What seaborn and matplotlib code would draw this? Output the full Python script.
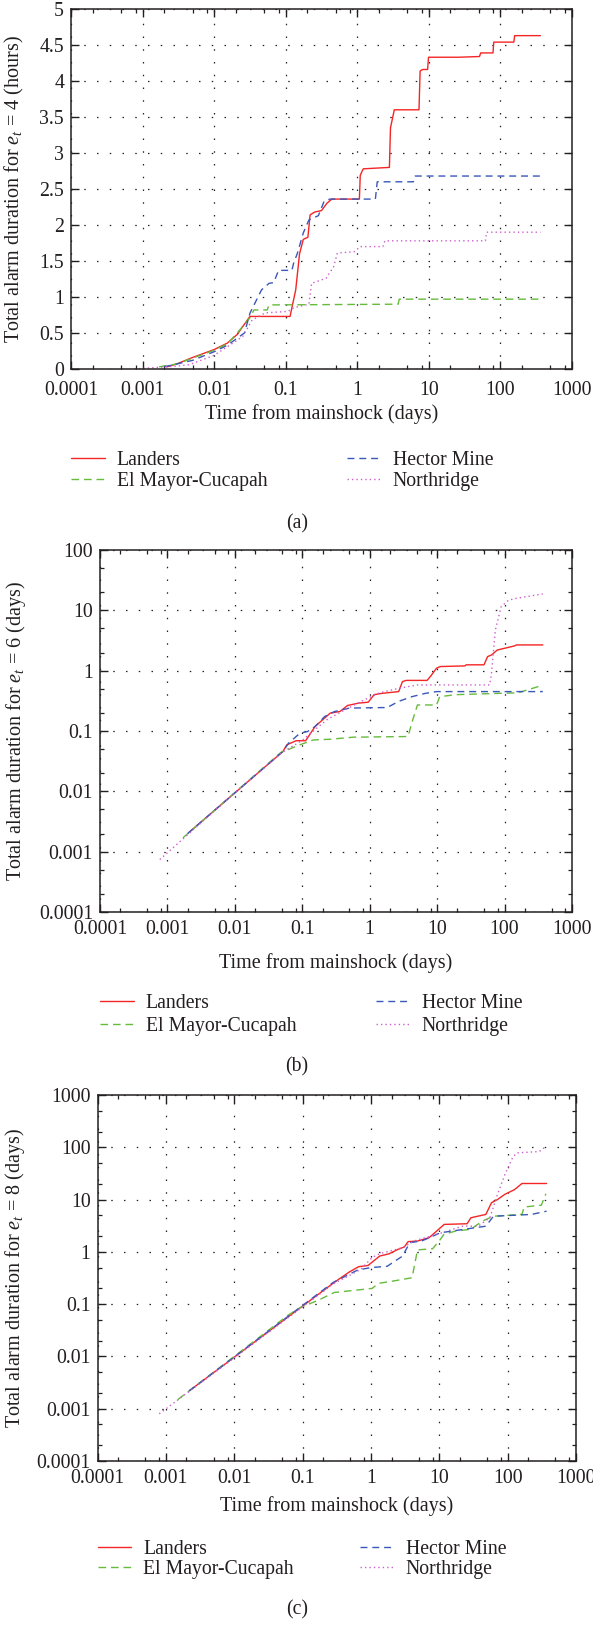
import numpy as np
import matplotlib
matplotlib.use("Agg")
import matplotlib.pyplot as plt
import seaborn as sns
from matplotlib.ticker import FixedLocator, FixedFormatter, LogLocator, NullFormatter

# ---------------- data ----------------
series_names = ["Landers", "El Mayor-Cucapah", "Hector Mine", "Northridge"]
x_tick_vals = [1e-4, 1e-3, 1e-2, 1e-1, 1, 10, 100, 1000]
x_tick_labels = ["0.0001", "0.001", "0.01", "0.1", "1", "10", "100", "1000"]
ya_tick_vals = [0, 0.5, 1, 1.5, 2, 2.5, 3, 3.5, 4, 4.5, 5]
ya_tick_labels = ["0", "0.5", "1", "1.5", "2", "2.5", "3", "3.5", "4", "4.5", "5"]
yb_tick_vals = [1e-4, 1e-3, 1e-2, 1e-1, 1, 10, 100]
yb_tick_labels = ["0.0001", "0.001", "0.01", "0.1", "1", "10", "100"]
yc_tick_vals = [1e-4, 1e-3, 1e-2, 1e-1, 1, 10, 100, 1000]
yc_tick_labels = ["0.0001", "0.001", "0.01", "0.1", "1", "10", "100", "1000"]

# panel (a): e_t = 4, hours
a_landers_t = [0.0022, 0.003, 0.005, 0.01, 0.0153, 0.021, 0.0316, 0.115, 0.138, 0.156, 0.176, 0.204,
               0.219, 0.254, 0.316, 0.375, 0.44, 1.07, 1.10, 1.21, 2.81, 2.91, 3.29, 7.28, 7.55, 8.2,
               9.6, 9.9, 26, 51, 53, 78.7, 80.7, 154, 158, 362]
a_landers_v = [0.03, 0.07, 0.16, 0.27, 0.36, 0.48, 0.73, 0.73, 1.1, 1.6, 1.8, 1.83,
               2.14, 2.18, 2.2, 2.3, 2.36, 2.36, 2.69, 2.78, 2.8, 3.35, 3.6, 3.6, 4.14, 4.16,
               4.16, 4.33, 4.33, 4.34, 4.39, 4.39, 4.54, 4.54, 4.63, 4.63]
a_hector_t = [0.002, 0.005, 0.01, 0.0153, 0.0265, 0.0318, 0.046, 0.0586, 0.068, 0.0794, 0.122, 0.129,
              0.146, 0.176, 0.211, 0.286, 0.344, 0.413, 1.79, 1.90, 6.07, 6.44, 362]
a_hector_v = [0.03, 0.12, 0.24, 0.33, 0.5, 0.78, 1.1, 1.19, 1.2, 1.37, 1.37, 1.47,
              1.61, 1.89, 2.07, 2.13, 2.33, 2.36, 2.36, 2.6, 2.6, 2.68, 2.68]
a_green_t = [0.0017, 0.003, 0.005, 0.01, 0.0153, 0.021, 0.0316, 0.036, 0.055, 0.0586, 3.72, 3.86, 362]
a_green_v = [0.03, 0.07, 0.15, 0.26, 0.35, 0.5, 0.71, 0.82, 0.82, 0.89, 0.9, 0.97, 0.97]
a_north_t = [0.00077, 0.0015, 0.003, 0.0045, 0.01, 0.0153, 0.025, 0.0339, 0.0519, 0.108, 0.129, 0.211,
             0.23, 0.366, 0.467, 0.527, 0.914, 1.10, 2.28, 2.43, 61.7, 64, 362]
a_north_v = [0.0, 0.02, 0.04, 0.06, 0.19, 0.31, 0.45, 0.68, 0.78, 0.8, 0.85, 0.9,
             1.19, 1.26, 1.42, 1.61, 1.63, 1.7, 1.7, 1.78, 1.78, 1.9, 1.9]

# panel (b): e_t = 6, days
b_landers_t = [0.0021, 0.0516, 0.059, 0.081, 0.112, 0.155, 0.26, 0.36, 0.47, 0.69, 0.95, 1.16, 1.5,
               2.69, 3.06, 3.5, 7.1, 8.07, 9.8, 11.2, 25.9, 27, 49.5, 56, 64, 78, 100, 140, 150, 369]
b_landers_v = [0.0021, 0.0458, 0.059, 0.069, 0.069, 0.119, 0.198, 0.21, 0.265, 0.29, 0.30, 0.40, 0.42,
               0.45, 0.66, 0.69, 0.69, 0.82, 1.1, 1.17, 1.2, 1.25, 1.25, 1.71, 1.82, 2.2, 2.35, 2.57, 2.67, 2.67]
b_hector_t = [0.002, 0.0516, 0.0627, 0.0925, 0.12, 0.155, 0.215, 0.30, 0.50, 1.82, 2.69, 4.2, 6.65, 9.8, 369]
b_hector_v = [0.002, 0.0458, 0.063, 0.092, 0.098, 0.119, 0.174, 0.21, 0.24, 0.245, 0.31, 0.37, 0.42, 0.45, 0.45]
b_green_t = [0.0017, 0.048, 0.092, 0.145, 0.26, 0.57, 3.7, 4.2, 5.1, 9.8, 10.9, 18.7, 158, 325, 365]
b_green_v = [0.0017, 0.044, 0.059, 0.071, 0.073, 0.079, 0.081, 0.135, 0.27, 0.27, 0.37, 0.40, 0.43, 0.55, 0.57]
b_north_t = [0.00077, 0.01, 0.05, 0.1, 0.23, 0.385, 0.835, 1.4, 2.69, 5.1, 60, 64, 73, 89, 115, 149, 369]
b_north_v = [0.00074, 0.0095, 0.044, 0.07, 0.153, 0.21, 0.33, 0.43, 0.51, 0.58, 0.58, 0.91, 4.7, 11.5,
             14.8, 15.8, 18.7]

# panel (c): e_t = 8, days
c_landers_t = [0.0022, 0.29, 0.48, 0.66, 0.91, 1.34, 1.85, 2.5, 3.08, 3.5, 4.8, 7.08, 8.58, 11.8, 25.5,
               29, 48, 58, 71, 91, 126, 162, 371]
c_landers_v = [0.0022, 0.26, 0.41, 0.52, 0.55, 0.83, 0.92, 1.12, 1.24, 1.57, 1.61, 1.86, 2.32, 3.35, 3.45,
               4.49, 5.2, 8.7, 10, 12.6, 15.5, 20.3, 20.3]
c_hector_t = [0.0022, 0.28, 0.64, 1.0, 1.73, 2.9, 3.7, 5.5, 8.05, 10.4, 48, 62, 224, 371]
c_hector_v = [0.0022, 0.26, 0.45, 0.5, 0.53, 0.83, 1.5, 1.61, 2.0, 2.32, 3.1, 4.8, 5.2, 6.0]
c_green_t = [0.0015, 0.062, 0.091, 0.17, 0.29, 1.04, 1.3, 2.24, 4.0, 4.8, 8.0, 10.4, 11.7, 17.3, 28.8,
             43, 62, 162, 174, 311, 363]
c_green_v = [0.0015, 0.062, 0.085, 0.119, 0.167, 0.20, 0.25, 0.28, 0.32, 1.09, 1.15, 1.74, 2.16, 2.5, 2.7,
             3.9, 4.8, 5.2, 7.2, 7.8, 12.9]
c_north_t = [0.0008, 0.29, 0.71, 1.04, 1.34, 2.9, 4.25, 6.2, 11, 22, 37, 55, 71, 91, 118, 135, 290, 350]
c_north_v = [0.0008, 0.25, 0.46, 0.78, 0.92, 1.2, 1.61, 1.86, 2.32, 3.1, 3.1, 4.5, 12.6, 30, 63, 78, 83, 100]

# ---------------- style ----------------
sns.set_theme(style="ticks")
SERIF = ["Liberation Serif", "DejaVu Serif"]
plt.rcParams["font.family"] = SERIF
plt.rcParams["mathtext.fontset"] = "custom"
plt.rcParams["mathtext.rm"] = "Liberation Serif"
plt.rcParams["mathtext.it"] = "Liberation Serif:italic"
TXT = "#231f20"
FS_TICK = 14.3
FS_LAB = 14.5
FS_LEG = 14.2

styles = {
    "Landers": dict(color="#f42525", linestyle="-", lw=1.0),
    "El Mayor-Cucapah": dict(color="#66bb3c", linestyle=(0, (5.5, 3.5)), lw=1.0),
    "Hector Mine": dict(color="#3a58b8", linestyle=(0, (5, 3.5)), lw=1.0),
    "Northridge": dict(color="#cc5fcc", linestyle=(0, (1, 2.2)), lw=1.0),
}

W, H = 593, 1625
fig = plt.figure(figsize=(W / 100, H / 100), dpi=100)


def add_ax(l, r, t, b):
    return fig.add_axes([l / W, 1 - b / H, (r - l) / W, (b - t) / H])


def style_axes(ax, ylog, yvals, ylabels, ylim, ylabel, ylab_x, xlab_y, xpad=6):
    ax.set_xscale("log")
    if ylog:
        ax.set_yscale("log")
    ax.set_xlim(1e-4, 1e3)
    ax.set_ylim(*ylim)
    ax.xaxis.set_major_locator(FixedLocator(x_tick_vals))
    ax.xaxis.set_major_formatter(FixedFormatter(x_tick_labels))
    ax.xaxis.set_minor_locator(LogLocator(base=10, subs=(2, 5, 8), numticks=20))
    ax.xaxis.set_minor_formatter(NullFormatter())
    ax.yaxis.set_major_locator(FixedLocator(yvals))
    ax.yaxis.set_major_formatter(FixedFormatter(ylabels))
    if ylog:
        ax.yaxis.set_minor_locator(LogLocator(base=10, subs=(2, 5), numticks=20))
        ax.yaxis.set_minor_formatter(NullFormatter())
    ax.tick_params(which="both", direction="in", top=True, right=True, colors=TXT,
                   labelsize=FS_TICK, labelcolor=TXT)
    ax.tick_params(which="major", length=6, width=1.0)
    ax.tick_params(axis="x", which="major", pad=xpad)
    ax.tick_params(axis="y", which="major", pad=5)
    ax.tick_params(which="minor", length=3, width=0.9)
    for lab in ax.get_xticklabels() + ax.get_yticklabels():
        lab.set_family(SERIF)
    for s in ax.spines.values():
        s.set_color(TXT)
        s.set_linewidth(1.1)
    ax.grid(True, which="major", color="#222222", linestyle=(0, (1.2, 9)), lw=0.9)
    ax.set_xlabel("Time from mainshock (days)", fontsize=FS_LAB, color=TXT, family=SERIF)
    ax.set_ylabel(ylabel, fontsize=FS_LAB, color=TXT, family=SERIF)
    ax.yaxis.set_label_coords(ylab_x, 0.5)
    ax.xaxis.set_label_coords(0.5, xlab_y)


def draw(ax, data):
    for name, (t, v) in zip(series_names, data):
        sns.lineplot(x=t, y=v, ax=ax, estimator=None, sort=False, label=name, **styles[name])
    if ax.get_legend() is not None:
        ax.get_legend().remove()


def legends(ax, x1, x2, yc, spacing):
    h, l = ax.get_legend_handles_labels()
    d = dict(zip(l, h))
    common = dict(loc="center left", frameon=False, borderpad=0, borderaxespad=0,
                  handlelength=1.7, handletextpad=0.62, labelspacing=spacing,
                  prop={"family": SERIF, "size": FS_LEG}, labelcolor=TXT)
    fig.legend([d["Landers"], d["El Mayor-Cucapah"]], ["Landers", "El Mayor-Cucapah"],
               bbox_to_anchor=(x1 / W, 1 - yc / H), **common)
    fig.legend([d["Hector Mine"], d["Northridge"]], ["Hector Mine", "Northridge"],
               bbox_to_anchor=(x2 / W, 1 - yc / H), **common)


def caption(txt, y):
    fig.text(297 / W, 1 - y / H, txt, ha="center", va="center", fontsize=FS_LEG, color=TXT, family=SERIF)


# panel (a)
ax_a = add_ax(71, 572, 9, 369)
style_axes(ax_a, False, ya_tick_vals, ya_tick_labels, (0, 5),
           r"Total alarm duration for $e_t$ = 4 (hours)", -0.09, -0.097, xpad=8.5)
draw(ax_a, [(a_landers_t, a_landers_v), (a_green_t, a_green_v),
            (a_hector_t, a_hector_v), (a_north_t, a_north_v)])
legends(ax_a, 71, 347, 471, 0.12)
caption("(a)", 524)

# panel (b)
ax_b = add_ax(100, 572, 550, 912)
style_axes(ax_b, True, yb_tick_vals, yb_tick_labels, (1e-4, 100),
           r"Total alarm duration for $e_t$ = 6 (days)", -0.153, -0.113)
draw(ax_b, [(b_landers_t, b_landers_v), (b_green_t, b_green_v),
            (b_hector_t, b_hector_v), (b_north_t, b_north_v)])
legends(ax_b, 100, 376, 1015, 0.22)
caption("(b)", 1067)

# panel (c)
ax_c = add_ax(97.5, 576, 1095, 1461)
style_axes(ax_c, True, yc_tick_vals, yc_tick_labels, (1e-4, 1000),
           r"Total alarm duration for $e_t$ = 8 (days)", -0.147, -0.096)
draw(ax_c, [(c_landers_t, c_landers_v), (c_green_t, c_green_v),
            (c_hector_t, c_hector_v), (c_north_t, c_north_v)])
legends(ax_c, 97.5, 360, 1559.5, 0.06)
caption("(c)", 1610)

fig.savefig("out.png", dpi=100, facecolor="white")
